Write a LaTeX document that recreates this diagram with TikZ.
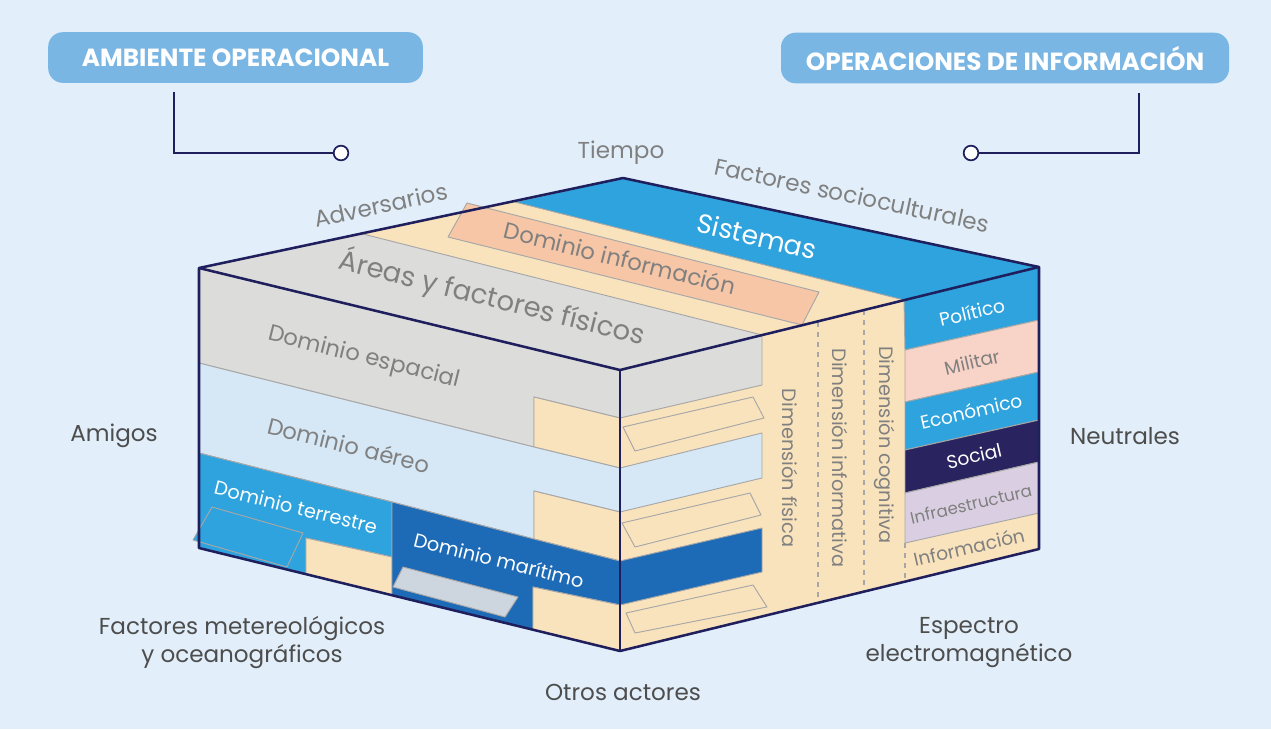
\documentclass[tikz,border=0pt]{standalone}
\usepackage{fontspec}
\setmainfont{Poppins}
\usetikzlibrary{calc}
\definecolor{bg}{HTML}{E2EFFA}
\definecolor{boxfill}{HTML}{7AB6E4}
\definecolor{navy}{HTML}{1F1F5E}
\definecolor{grayface}{HTML}{DCDCDA}
\definecolor{lightblue}{HTML}{D6E8F6}
\definecolor{midblue}{HTML}{2EA3DD}
\definecolor{darkblue}{HTML}{1D6BB6}
\definecolor{beige}{HTML}{F9E3BC}
\definecolor{salmon}{HTML}{F6C6A6}
\definecolor{pink}{HTML}{F8D3C7}
\definecolor{socialnavy}{HTML}{29245F}
\definecolor{lavender}{HTML}{DACFE2}
\definecolor{slate}{HTML}{CDD5DF}
\definecolor{bandline}{HTML}{A7A7A7}
\definecolor{txtgray}{HTML}{808080}
\definecolor{txtdark}{HTML}{4D4D4D}
\begin{document}
\begin{tikzpicture}[x=0.75pt,y=-0.75pt,
  band/.style={draw=bandline, line width=0.7pt, line join=round},
  cubeedge/.style={draw=navy, line width=1.9pt, line join=round},
  cubethin/.style={draw=navy, line width=1.2pt},
  dashline/.style={draw=bandline, line width=0.8pt, dash pattern=on 4pt off 3.5pt},
  conn/.style={draw=navy, line width=1.3pt},
  hdr/.style={fill=boxfill, rounded corners=11pt, minimum height=38pt, text=white, font=\bfseries\fontsize{18.6}{22}\selectfont, inner sep=0pt},
  dot/.style={circle, draw=navy, fill=white, line width=1.3pt, minimum size=11pt, inner sep=0pt},
  lbl/.style={text=txtdark, font=\fontsize{17.3}{21}\selectfont, inner sep=0pt, align=center},
  lblg/.style={text=txtgray, font=\fontsize{17.3}{21}\selectfont, inner sep=0pt},
  face/.style={text=txtgray, font=\fontsize{17}{21}\selectfont, inner sep=0pt},
  facew/.style={text=white, font=\fontsize{14.5}{18}\selectfont, inner sep=0pt},
  dim/.style={text=txtgray, font=\fontsize{14.5}{18}\selectfont, inner sep=0pt, rotate=-90},
  col/.style={font=\fontsize{14}{17}\selectfont, inner sep=0pt, rotate=13}
]
\fill[bg] (0,0) rectangle (1271,729);
\useasboundingbox (0,0) rectangle (1271,729);

\coordinate (A) at (199,268);
\coordinate (B) at (620,370);
\coordinate (C) at (1039,267);
\coordinate (D) at (623,178);
\coordinate (E) at (199,548);
\coordinate (F) at (620,651);
\coordinate (G) at (1039,549);

% ---- top face
\fill[beige] (A)--(D)--(C)--(B)--cycle;
\filldraw[band, fill=midblue] (D)--(C)--(904,300)--(515,202)--cycle;
\filldraw[band, fill=grayface] (A)--(363,234)--(762,335)--(B)--cycle;
\filldraw[band, fill=salmon] (467,203)--(819,292)--(802,325)--(448,237)--cycle;

% ---- front face
\filldraw[band, fill=grayface] (A)--(B)--(620,418)--(534,397)--(534,447)--(199,363)--cycle;
\filldraw[band, fill=beige] (534,397)--(620,418)--(620,468)--(534,447)--cycle;
\filldraw[band, fill=lightblue] (199,363)--(534,447)--(620,468)--(620,512)--(534,491)--(534,539)--(392,502)--(199,453)--cycle;
\filldraw[band, fill=beige] (534,491)--(620,512)--(620,561)--(534,539)--cycle;
\filldraw[band, fill=midblue] (199,453)--(392,502)--(392,557)--(306,538)--(306,574)--(E)--cycle;
\filldraw[band, fill=beige] (306,538)--(392,557)--(392,595)--(306,574)--cycle;
\filldraw[band, fill=darkblue] (392,502)--(534,539)--(620,561)--(620,605)--(533,587)--(533,630)--(392,595)--cycle;
\filldraw[band, fill=beige] (533,587)--(620,605)--(F)--(533,630)--cycle;
\filldraw[band, fill=midblue] (212,507)--(303,533)--(287,567)--(193,540)--cycle;
\filldraw[band, fill=slate] (403,567)--(518,597)--(505,617)--(393,587)--cycle;

% ---- right face
\fill[beige] (B)--(C)--(G)--(F)--cycle;
\filldraw[band, fill=grayface] (B)--(762,335)--(762,385)--(620,418)--cycle;
\filldraw[band, fill=lightblue] (620,468)--(762,433)--(762,478)--(620,512)--cycle;
\filldraw[band, fill=darkblue] (620,561)--(762,528)--(762,572)--(620,605)--cycle;
\filldraw[band, fill=beige] (623,427)--(753,397)--(764,418)--(635,451)--cycle;
\filldraw[band, fill=beige] (622,523)--(750,493)--(761,515)--(635,547)--cycle;
\filldraw[band, fill=beige] (626,613)--(753,585)--(767,607)--(635,633)--cycle;
\draw[dashline] (818,322)--(818,602);
\draw[dashline] (864,310)--(864,591);
\draw[dashline] (905,543)--(905,581);
\filldraw[band, fill=midblue] (904,300)--(C)--(1039,320)--(905,350)--cycle;
\filldraw[band, fill=pink] (905,350)--(1039,320)--(1039,372)--(905,402)--cycle;
\filldraw[band, fill=midblue] (905,402)--(1039,372)--(1039,420)--(905,450)--cycle;
\filldraw[band, fill=socialnavy] (905,450)--(1039,420)--(1039,462)--(905,493)--cycle;
\filldraw[band, fill=lavender] (905,493)--(1039,462)--(1039,513)--(905,543)--cycle;

% ---- cube outline
\draw[cubeedge] (A)--(D)--(C)--(G)--(F)--(E)--cycle;
\draw[cubeedge] (A)--(B)--(C);
\draw[cubethin] (B)--(F);

% ---- headers and connectors
\node[hdr, minimum width=281pt] (amb) at (235.5,57.5) {AMBIENTE OPERACIONAL};
\node[hdr, minimum width=336pt] (opi) at (1005,58) {OPERACIONES DE INFORMACIÓN};
\node[dot] (c1) at (341,153) {};
\node[dot] (c2) at (971,153) {};
\draw[conn] ($(amb.south west)+(126,9)$) |- (c1.west);
\draw[conn] ($(opi.south east)+(-90,9)$) |- (c2.east);

% ---- outer labels
\node[lblg] (tiempo) at (621,153) {Tiempo};
\node[lblg, rotate=12] (adv) at (381,205) {Adversarios};
\node[lblg, rotate=-12] (soc) at (852,195) {Factores socioculturales};
\node[lbl] (amigos) at (114,436) {Amigos};
\node[lbl] (neutrales) at (1125,436) {Neutrales};
\node[lbl] (meteo) at (242,643) {Factores metereológicos\\y oceanográficos};
\node[lbl] (espectro) at (969,643) {Espectro\\electromagnético};
\node[lbl] (otros) at (623,692) {Otros actores};

% ---- face labels
\node[text=white, font=\fontsize{20}{24}\selectfont, inner sep=0pt, rotate=-13.5] (sist) at (757,236) {Sistemas};
\node[face, rotate=-14] (dinf) at (620,258) {Dominio información};
\node[face, font=\fontsize{20.5}{24}\selectfont, rotate=-14] (areas) at (492,298) {Áreas y factores físicos};
\node[face, rotate=-14] (desp) at (364,358) {Dominio espacial};
\node[face, rotate=-14] (daer) at (349,445) {Dominio aéreo};
\node[facew, rotate=-14] (dter) at (296,507) {Dominio terrestre};
\node[facew, rotate=-14] (dmar) at (499,560) {Dominio marítimo};
\node[dim] (dfis) at (790,468) {Dimensión física};
\node[dim] (dinfo) at (840,458) {Dimensión informativa};
\node[dim] (dcog) at (885,445) {Dimensión cognitiva};
\node[col, text=white] (pol) at (972,312) {Político};
\node[col, text=txtgray] (mil) at (972,362) {Militar};
\node[col, text=white] (eco) at (971,411) {Económico};
\node[col, text=white] (socl) at (974,456) {Social};
\node[col, text=txtgray, font=\fontsize{12.5}{15}\selectfont] (infra) at (971,504) {Infraestructura};
\node[col, text=txtgray] (infor) at (969,547) {Información};
\end{tikzpicture}
\end{document}
